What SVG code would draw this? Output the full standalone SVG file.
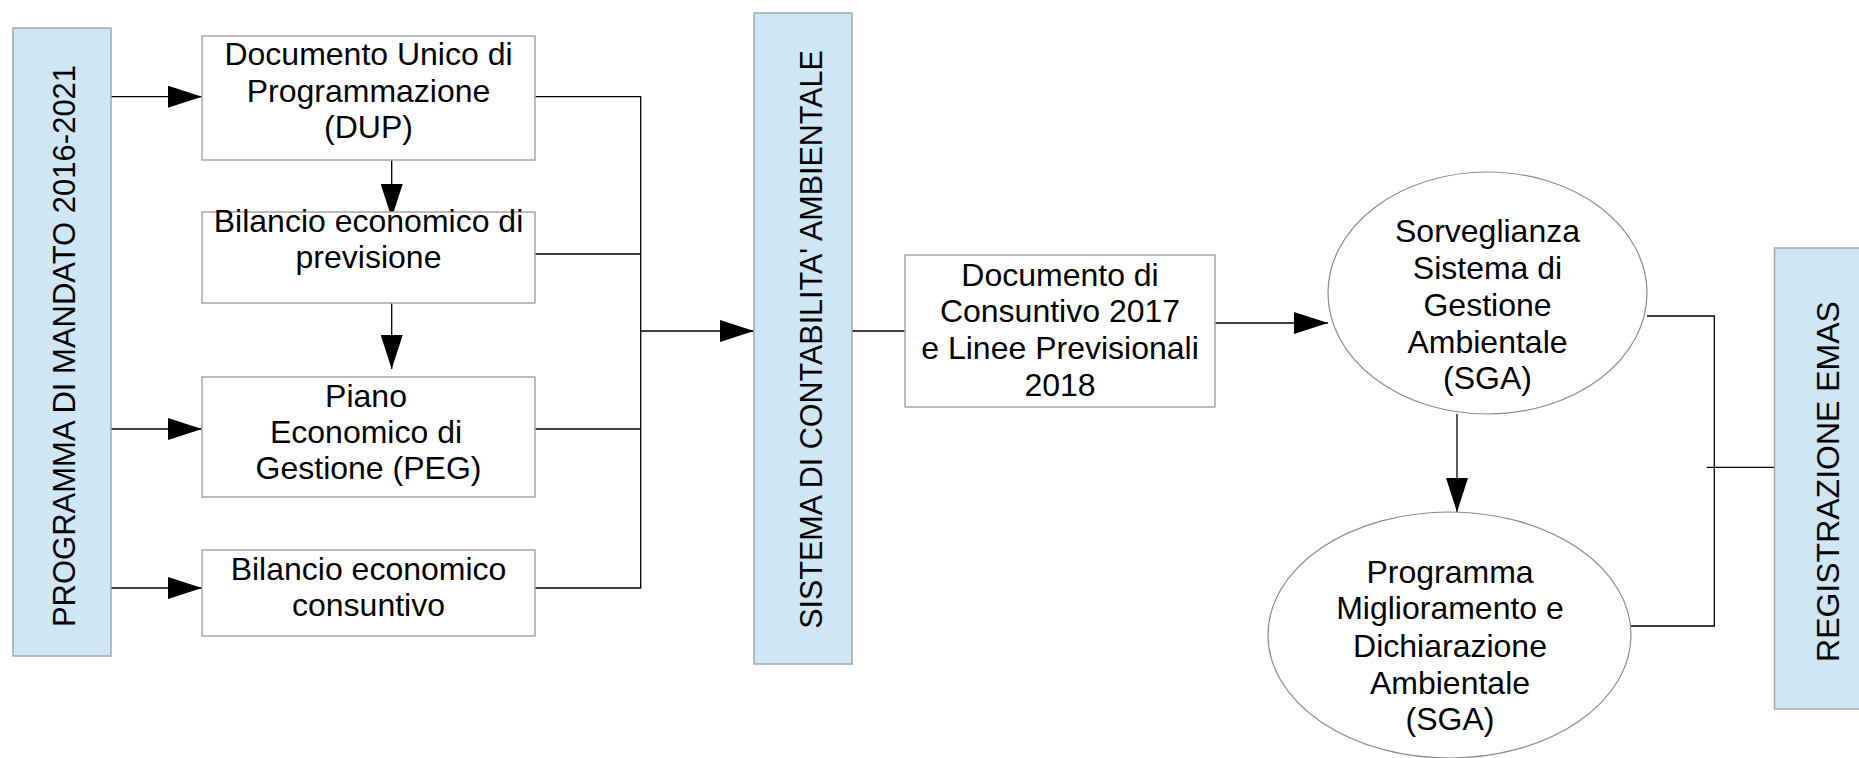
<svg xmlns="http://www.w3.org/2000/svg" width="1859" height="758" viewBox="0 0 1859 758">
<style>
  .bar { fill: #cfe6f4; stroke: #9ea8b2; stroke-width: 1.5; }
  .box { fill: #ffffff; stroke: #a6a6a6; stroke-width: 1.5; }
  .ell { fill: #ffffff; stroke: #8c8c8c; stroke-width: 1.2; }
  .t { font-family: "Liberation Sans", Arial, sans-serif; font-size: 32px; fill: #000; text-anchor: middle; }
  .c { fill: none; stroke: #000; stroke-width: 1.3; }
  .a { marker-end: url(#ah); }
</style>
<defs>
  <marker id="ah" markerUnits="userSpaceOnUse" markerWidth="34" markerHeight="22" refX="34" refY="11" orient="auto" viewBox="0 0 34 22">
    <path d="M0,0 L34,11 L0,22 Z" fill="#000"/>
  </marker>
</defs>
<rect width="1859" height="758" fill="#ffffff"/>

<g id="connectors">
  <line class="c a" x1="111" y1="96.7" x2="202" y2="96.7"/>
  <line class="c a" x1="111" y1="429" x2="202" y2="429"/>
  <line class="c a" x1="111" y1="588" x2="202" y2="588"/>
  <line class="c a" x1="391.7" y1="144" x2="391.7" y2="218"/>
  <line class="c a" x1="391.7" y1="295" x2="391.7" y2="369"/>
  <polyline class="c" points="535,96.7 640.7,96.7 640.7,588 535,588"/>
  <line class="c" x1="535" y1="254" x2="640.7" y2="254"/>
  <line class="c" x1="535" y1="429" x2="640.7" y2="429"/>
  <line class="c a" x1="640.7" y1="331" x2="754" y2="331"/>
  <line class="c" x1="852" y1="331" x2="905" y2="331"/>
  <line class="c a" x1="1215" y1="323" x2="1328" y2="323"/>
  <line class="c a" x1="1457" y1="414" x2="1457" y2="512"/>
  <polyline class="c" points="1647,316 1714.3,316 1714.3,626 1631,626"/>
  <line class="c" x1="1706.7" y1="467.3" x2="1774.5" y2="467.3"/>
</g>

<g id="programma-mandato">
  <rect class="bar" x="13" y="28" width="98" height="628"/>
  <text class="t" transform="translate(75,346) rotate(-90)" x="0" y="0" style="font-size:31px">PROGRAMMA DI MANDATO 2016-2021</text>
</g>

<g id="dup">
  <rect class="box" x="202" y="36" width="333" height="124"/>
  <text class="t" x="368.5" y="65">Documento Unico di</text>
  <text class="t" x="368.5" y="102">Programmazione</text>
  <text class="t" x="368.5" y="138">(DUP)</text>
</g>

<g id="bilancio-previsione">
  <rect class="box" x="202" y="212" width="333" height="91"/>
  <text class="t" x="368.5" y="232">Bilancio economico di</text>
  <text class="t" x="368.5" y="268">previsione</text>
</g>

<g id="peg">
  <rect class="box" x="202" y="377" width="333" height="120"/>
  <text class="t" x="366" y="407">Piano</text>
  <text class="t" x="366" y="443">Economico di</text>
  <text class="t" x="368.5" y="479">Gestione (PEG)</text>
</g>

<g id="bilancio-consuntivo">
  <rect class="box" x="202" y="550" width="333" height="86"/>
  <text class="t" x="368.5" y="580">Bilancio economico</text>
  <text class="t" x="368.5" y="616">consuntivo</text>
</g>

<g id="sistema-contabilita">
  <rect class="bar" x="754" y="13" width="98" height="651"/>
  <text class="t" transform="translate(822,339.5) rotate(-90)" x="0" y="0" style="font-size:30.5px">SISTEMA DI CONTABILITA' AMBIENTALE</text>
</g>

<g id="documento-consuntivo">
  <rect class="box" x="905" y="255" width="310" height="152"/>
  <text class="t" x="1060" y="286">Documento di</text>
  <text class="t" x="1060" y="322">Consuntivo 2017</text>
  <text class="t" x="1060" y="359">e Linee Previsionali</text>
  <text class="t" x="1060" y="396">2018</text>
</g>

<g id="sorveglianza-sga">
  <ellipse class="ell" cx="1487.5" cy="293" rx="159.5" ry="121"/>
  <text class="t" x="1487.5" y="242">Sorveglianza</text>
  <text class="t" x="1487.5" y="279">Sistema di</text>
  <text class="t" x="1487.5" y="316">Gestione</text>
  <text class="t" x="1487.5" y="353">Ambientale</text>
  <text class="t" x="1487.5" y="389">(SGA)</text>
</g>

<g id="programma-miglioramento">
  <ellipse class="ell" cx="1449.5" cy="635" rx="181.5" ry="123"/>
  <text class="t" x="1450" y="583">Programma</text>
  <text class="t" x="1450" y="619">Miglioramento e</text>
  <text class="t" x="1450" y="657">Dichiarazione</text>
  <text class="t" x="1450" y="694">Ambientale</text>
  <text class="t" x="1450" y="730">(SGA)</text>
</g>

<g id="registrazione-emas">
  <rect class="bar" x="1774.5" y="248" width="98" height="461"/>
  <text class="t" transform="translate(1839,481.5) rotate(-90)" x="0" y="0">REGISTRAZIONE EMAS</text>
</g>
</svg>
